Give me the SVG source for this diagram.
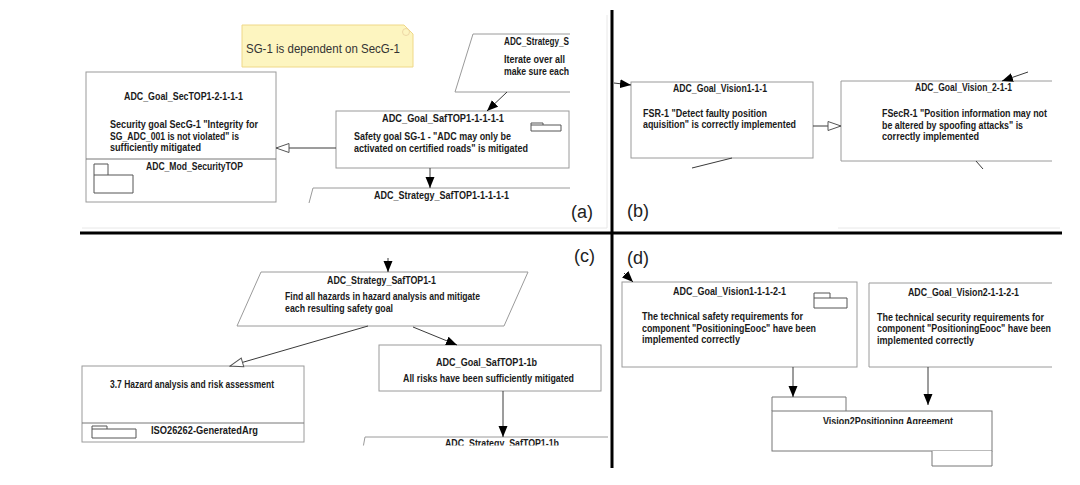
<svg xmlns="http://www.w3.org/2000/svg" width="1080" height="485" viewBox="0 0 1080 485">
<style>
.bx{fill:#fff;stroke:#9a9a9a;stroke-width:1}
.ln{fill:none;stroke:#9a9a9a;stroke-width:1}
.pk{fill:none;stroke:#555;stroke-width:1}
.t{font-family:"Liberation Sans",Arial,sans-serif;font-weight:700;font-size:10px;fill:#1a1a1a}
.tc{text-anchor:middle}
.lbl{font-family:"Liberation Sans",Arial,sans-serif;font-size:18px;fill:#222}
.cn{fill:none;stroke:#3a3a3a;stroke-width:1}
.div{stroke:#000;stroke-width:3}
.faint{stroke:#e8e8e8;stroke-width:1;fill:none}
</style>
<defs>
<marker id="fa" markerUnits="userSpaceOnUse" markerWidth="12" markerHeight="10" refX="11" refY="5" orient="auto">
<path d="M0,0.5 L11,5 L0,9.5 z" fill="#000"/>
</marker>
<marker id="ha" markerUnits="userSpaceOnUse" markerWidth="15" markerHeight="11" refX="14" refY="5.5" orient="auto">
<path d="M1,1 L14,5.5 L1,10 z" fill="#fff" stroke="#555" stroke-width="1"/>
</marker>
<clipPath id="cA"><rect x="80" y="0" width="490" height="231"/></clipPath>
<clipPath id="cB"><rect x="614" y="0" width="438" height="231"/></clipPath>
<clipPath id="cC"><rect x="80" y="235" width="530" height="210.5"/></clipPath>
<clipPath id="cD"><rect x="614" y="235" width="438" height="240"/></clipPath>
<clipPath id="cAg"><rect x="770" y="395" width="230" height="29"/></clipPath>
</defs>

<!-- faint panel edges -->
<path class="faint" d="M82 228 H607 M607 15 V228 M838 228 H1060"/>

<!-- dividers -->
<line class="div" x1="612" y1="10" x2="612" y2="468"/>
<line class="div" x1="80" y1="233" x2="1062" y2="233"/>

<!-- panel (a) -->
<g clip-path="url(#cA)">
<g id="note-sg1">
<path d="M242 25 H404 L413 34 V67 H242 Z" fill="#fdf5c0" stroke="#efd888" stroke-width="1"/>
<circle cx="406" cy="32" r="3.5" fill="none" stroke="#e8cfa0" stroke-width="0.8"/>
<text x="246" y="53" font-family="Liberation Sans,Arial,sans-serif" font-size="13" fill="#333" textLength="154" lengthAdjust="spacingAndGlyphs">SG-1 is dependent on SecG-1</text>
</g>
<g id="goal-sectop">
<rect class="bx" x="86" y="72" width="190" height="130"/>
<line x1="86" y1="159" x2="276" y2="159" stroke="#777" stroke-width="1"/>
<text class="t tc" x="183.5" y="100" textLength="119" lengthAdjust="spacingAndGlyphs">ADC_Goal_SecTOP1-2-1-1-1</text>
<text class="t" x="110" y="128" textLength="148" lengthAdjust="spacingAndGlyphs">Security goal SecG-1 "Integrity for</text>
<text class="t" x="110" y="140" textLength="129" lengthAdjust="spacingAndGlyphs">SG_ADC_001 is not violated" is</text>
<text class="t" x="110" y="151" textLength="91" lengthAdjust="spacingAndGlyphs">sufficiently mitigated</text>
<text class="t tc" x="194.5" y="170" textLength="97" lengthAdjust="spacingAndGlyphs">ADC_Mod_SecurityTOP</text>
<path class="pk" d="M94 175 V164 H108 V175 M94 175 H133 V193 H94 Z"/>
</g>
<g id="strategy-s">
<path class="bx" d="M473 34 H575 L575 92 H455 Z"/>
<text class="t" x="504" y="45" textLength="65" lengthAdjust="spacingAndGlyphs">ADC_Strategy_S</text>
<text class="t" x="504" y="63" textLength="61" lengthAdjust="spacingAndGlyphs">Iterate over all</text>
<text class="t" x="504" y="75" textLength="65" lengthAdjust="spacingAndGlyphs">make sure each</text>
</g>
<g id="goal-saftop">
<rect class="bx" x="336" y="111" width="233" height="57"/>
<text class="t tc" x="443" y="122" textLength="122" lengthAdjust="spacingAndGlyphs">ADC_Goal_SafTOP1-1-1-1-1</text>
<text class="t" x="354" y="140" textLength="157" lengthAdjust="spacingAndGlyphs">Safety goal SG-1 - "ADC may only be</text>
<text class="t" x="354" y="151.5" textLength="174" lengthAdjust="spacingAndGlyphs">activated on certified roads" is mitigated</text>
<path class="pk" d="M531 125 V123 H543 V125 M531 125 H561 V131 H531 Z"/>
</g>
<g id="strategy-saftop-a">
<path class="ln" d="M309 203 L313 188 H575"/>
<text class="t tc" x="441.5" y="199" textLength="135" lengthAdjust="spacingAndGlyphs">ADC_Strategy_SafTOP1-1-1-1-1</text>
</g>
</g>
<text class="lbl" x="571" y="218">(a)</text>

<!-- panel (b) -->
<g clip-path="url(#cB)">
<g id="goal-vision1">
<rect class="bx" x="631" y="82" width="182" height="76"/>
<text class="t tc" x="720" y="92" textLength="94" lengthAdjust="spacingAndGlyphs">ADC_Goal_Vision1-1-1</text>
<text class="t" x="643" y="116.5" textLength="124" lengthAdjust="spacingAndGlyphs">FSR-1 "Detect faulty position</text>
<text class="t" x="643" y="128" textLength="153" lengthAdjust="spacingAndGlyphs">aquisition" is correctly implemented</text>
</g>
<g id="goal-vision2">
<path class="bx" d="M1060 81 H841 V161 H1060"/>
<text class="t tc" x="963.5" y="91" textLength="97" lengthAdjust="spacingAndGlyphs">ADC_Goal_Vision_2-1-1</text>
<text class="t" x="882" y="116.5" textLength="165" lengthAdjust="spacingAndGlyphs">FSecR-1 "Position information may not</text>
<text class="t" x="882" y="128.5" textLength="141" lengthAdjust="spacingAndGlyphs">be altered by spoofing attacks" is</text>
<text class="t" x="882" y="140" textLength="97" lengthAdjust="spacingAndGlyphs">correctly implemented</text>
</g>
</g>
<text class="lbl" x="627" y="217">(b)</text>

<!-- panel (c) -->
<g clip-path="url(#cC)">
<g id="strategy-saftop1-1">
<path class="bx" d="M261 272 H528 L504 326 H237 Z"/>
<text class="t tc" x="381.5" y="284" textLength="109" lengthAdjust="spacingAndGlyphs">ADC_Strategy_SafTOP1-1</text>
<text class="t" x="285" y="299.5" textLength="195" lengthAdjust="spacingAndGlyphs">Find all hazards in hazard analysis and mitigate</text>
<text class="t" x="285" y="311.5" textLength="108" lengthAdjust="spacingAndGlyphs">each resulting safety goal</text>
</g>
<g id="hazard-analysis">
<rect class="bx" x="82" y="366" width="222" height="76"/>
<line x1="82" y1="423" x2="304" y2="423" stroke="#777" stroke-width="1"/>
<text class="t tc" x="192" y="388" textLength="164" lengthAdjust="spacingAndGlyphs">3.7 Hazard analysis and risk assessment</text>
<text class="t tc" x="204.5" y="433.5" textLength="107" lengthAdjust="spacingAndGlyphs">ISO26262-GeneratedArg</text>
<path class="pk" d="M92 429 V426 H107 V429 M92 429 H136 V438 H92 Z"/>
</g>
<g id="goal-saftop1-1b">
<rect class="bx" x="379" y="345" width="222" height="46"/>
<text class="t tc" x="486.5" y="366" textLength="101" lengthAdjust="spacingAndGlyphs">ADC_Goal_SafTOP1-1b</text>
<text class="t tc" x="488.5" y="382" textLength="171" lengthAdjust="spacingAndGlyphs">All risks have been sufficiently mitigated</text>
</g>
<g id="strategy-saftop1-1b">
<path class="ln" d="M363 448 L365 437 H608"/>
<text class="t tc" x="502" y="447" textLength="114" lengthAdjust="spacingAndGlyphs">ADC_Strategy_SafTOP1-1b</text>
</g>
</g>
<text class="lbl" x="574" y="262">(c)</text>

<!-- panel (d) -->
<g clip-path="url(#cD)">
<g id="goal-vision1-2-1">
<rect class="bx" x="622" y="282" width="235" height="85"/>
<text class="t tc" x="729.5" y="295" textLength="113" lengthAdjust="spacingAndGlyphs">ADC_Goal_Vision1-1-1-2-1</text>
<text class="t" x="642" y="319.5" textLength="161" lengthAdjust="spacingAndGlyphs">The technical safety requirements for</text>
<text class="t" x="642" y="331.5" textLength="174" lengthAdjust="spacingAndGlyphs">component "PositioningEooc" have been</text>
<text class="t" x="642" y="343" textLength="98" lengthAdjust="spacingAndGlyphs">implemented correctly</text>
<path class="pk" d="M814 298 V293 H830 V298 M814 298 H847 V308 H814 Z"/>
</g>
<g id="goal-vision2-2-1">
<path class="bx" d="M1060 283 H869 V367 H1060"/>
<text class="t tc" x="963.5" y="295.5" textLength="111" lengthAdjust="spacingAndGlyphs">ADC_Goal_Vision2-1-1-2-1</text>
<text class="t" x="877" y="320.5" textLength="167" lengthAdjust="spacingAndGlyphs">The technical security requirements for</text>
<text class="t" x="877" y="332" textLength="174" lengthAdjust="spacingAndGlyphs">component "PositioningEooc" have been</text>
<text class="t" x="877" y="343.5" textLength="97" lengthAdjust="spacingAndGlyphs">implemented correctly</text>
</g>
<g id="agreement">
<path d="M772 411 V397 H846 V411" fill="#fff" stroke="#777" stroke-width="1"/>
<rect x="772" y="411" width="220" height="40" fill="#fff" stroke="#777" stroke-width="1"/>
<path d="M932 451 V466 H992 V451" fill="#fff" stroke="#777" stroke-width="1"/>
<text class="t tc" x="888" y="424.5" clip-path="url(#cAg)" textLength="130" lengthAdjust="spacingAndGlyphs">Vision2Positioning Agreement</text>
</g>
</g>
<text class="lbl" x="627" y="264">(d)</text>

<!-- connectors -->
<g id="connectors">
<line class="cn" x1="507" y1="92" x2="487" y2="111" marker-end="url(#fa)"/>
<line class="cn" x1="336" y1="148" x2="276" y2="148" marker-end="url(#ha)"/>
<line class="cn" x1="430" y1="168" x2="430" y2="188" marker-end="url(#fa)"/>
<line class="cn" x1="614" y1="83" x2="631" y2="85" marker-end="url(#fa)"/>
<line class="cn" x1="692" y1="168" x2="732" y2="158"/>
<line class="cn" x1="813" y1="126" x2="841" y2="126" marker-end="url(#ha)"/>
<line class="cn" x1="1028" y1="72" x2="1002" y2="81" marker-end="url(#fa)"/>
<line class="cn" x1="976" y1="161" x2="983" y2="169"/>
<line class="cn" x1="388" y1="258" x2="388" y2="272" marker-end="url(#fa)"/>
<line class="cn" x1="368" y1="326" x2="230" y2="366" marker-end="url(#ha)"/>
<line class="cn" x1="413" y1="327" x2="457" y2="345" marker-end="url(#fa)"/>
<line class="cn" x1="503" y1="391" x2="503" y2="437" marker-end="url(#fa)"/>
<line class="cn" x1="624" y1="273" x2="633" y2="282" marker-end="url(#fa)"/>
<line class="cn" x1="793" y1="367" x2="793" y2="397" marker-end="url(#fa)"/>
<line class="cn" x1="928" y1="367" x2="928" y2="405" marker-end="url(#fa)"/>
</g>
</svg>
